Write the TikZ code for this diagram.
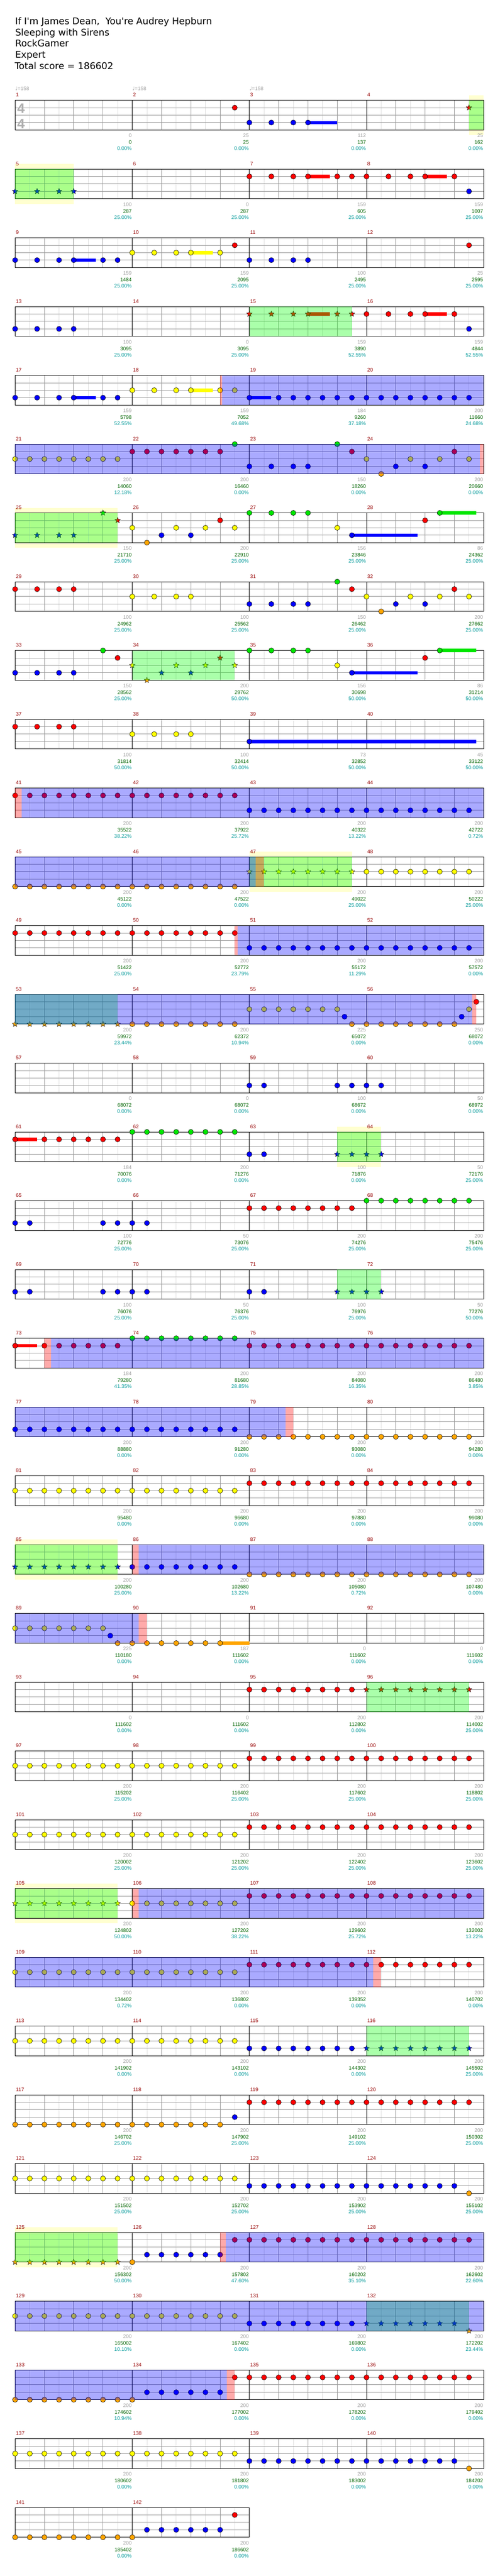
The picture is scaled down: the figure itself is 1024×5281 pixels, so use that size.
\documentclass[tikz,border=0pt]{standalone}
\usepackage{fontspec}
\usetikzlibrary{shapes.geometric}
\newfontfamily\titlef{DejaVu Sans}
\newfontfamily\numf{Liberation Sans}
\newfontfamily\djf{DejaVu Sans}
\definecolor{ln0}{RGB}{0,230,0}
\definecolor{ln1}{RGB}{255,0,0}
\definecolor{ln2}{RGB}{255,255,0}
\definecolor{ln3}{RGB}{0,0,255}
\definecolor{ln4}{RGB}{255,165,0}
\definecolor{csp}{RGB}{0,255,0}
\definecolor{cod}{RGB}{0,0,255}
\definecolor{cpk}{RGB}{255,0,0}
\definecolor{cexty}{RGB}{255,255,208}
\definecolor{mred}{RGB}{150,0,0}
\definecolor{numgrey}{RGB}{160,160,160}
\definecolor{numgreen}{RGB}{0,100,0}
\definecolor{numcyan}{RGB}{0,153,153}
\definecolor{gridlight}{RGB}{222,222,222}
\definecolor{gridmid}{RGB}{153,153,153}
\definecolor{sigrey}{RGB}{175,175,175}
\definecolor{tempogrey}{RGB}{165,165,165}
\tikzset{
 starnote/.style={star,star points=5,star point ratio=2.3,minimum size=12pt,inner sep=0pt,draw=black,line width=0.5pt},
 spgreen/.style={fill=csp,fill opacity=0.333},
 odblue/.style={fill=cod,fill opacity=0.333},
 pkred/.style={fill=cpk,fill opacity=0.333},
 extyel/.style={fill=cexty},
 glight/.style={draw=gridlight,line width=1pt},
 gmid/.style={draw=gridmid,line width=1pt},
 gbar/.style={draw=black,line width=1pt},
 smallfont/.style={font=\numf\fontsize{10.5}{12}\selectfont,inner sep=0pt},
 mlab/.style={smallfont,text=mred,anchor=base west},
 ngrey/.style={smallfont,text=numgrey,anchor=base east},
 ngreen/.style={smallfont,text=numgreen,anchor=base east},
 ncyan/.style={smallfont,text=numcyan,anchor=base east},
 tempo/.style={smallfont,text=tempogrey,anchor=base west},
 tsig/.style={font=\numf\bfseries\fontsize{28}{30}\selectfont,text=sigrey,inner sep=0pt,anchor=base west},
 titletext/.style={font=\titlef\fontsize{19}{22}\selectfont,inner sep=0pt,anchor=base west},
}
% note: row, beat, lane
\newcommand{\gnote}[3]{%
 \pgfmathsetmacro{\xx}{31+60*(#2)}%
 \pgfmathsetmacro{\yy}{205.5+141*(#1)+15.25*(#3)}%
 \filldraw[fill=ln#3,draw=black,line width=0.6pt] (\xx,\yy) circle[radius=5.3pt];}
\newcommand{\gstar}[3]{%
 \pgfmathsetmacro{\xx}{31+60*(#2)}%
 \pgfmathsetmacro{\yy}{205.5+141*(#1)+15.25*(#3)}%
 \node[starnote,fill=ln#3] at (\xx,\yy) {};}
% sustain: row, beat, lane, length
\newcommand{\gsus}[4]{%
 \pgfmathsetmacro{\xa}{31+60*(#2)}%
 \pgfmathsetmacro{\xb}{31+60*(#2+#4)}%
 \pgfmathsetmacro{\ya}{205.5+141*(#1)+15.25*(#3)-3.4}%
 \pgfmathsetmacro{\yb}{\ya+6.8}%
 \fill[ln#3] (\xa,\ya) rectangle (\xb,\yb);}
\newcommand{\gsn}[4]{\gsus{#1}{#2}{#3}{#4}\gnote{#1}{#2}{#3}}
% run: row, start, count, step, lane
\newcommand{\grun}[5]{\foreach \kk in {1,...,#3}{\pgfmathsetmacro{\gbb}{#2+(\kk-1)*(#4)}\gnote{#1}{\gbb}{#5}}}
\newcommand{\gsrun}[5]{\foreach \kk in {1,...,#3}{\pgfmathsetmacro{\gbb}{#2+(\kk-1)*(#4)}\gstar{#1}{\gbb}{#5}}}
\newcommand{\gpat}[3]{\gnote{#1}{#2}{#3}\gnote{#1}{#2+0.75}{#3}\gnote{#1}{#2+1.5}{#3}\gnote{#1}{#2+2}{#3}}
\newcommand{\gspat}[3]{\gstar{#1}{#2}{#3}\gstar{#1}{#2+0.75}{#3}\gstar{#1}{#2+1.5}{#3}\gstar{#1}{#2+2}{#3}}
% region: style, row, b1, b2
\newcommand{\greg}[4]{%
 \pgfmathsetmacro{\xa}{31+60*(#3)}\pgfmathsetmacro{\xb}{31+60*(#4)}%
 \pgfmathsetmacro{\ya}{205.5+141*(#2)}\pgfmathsetmacro{\yb}{\ya+61}%
 \fill[#1] (\xa,\ya) rectangle (\xb,\yb);}
\newcommand{\gext}[3]{%
 \pgfmathsetmacro{\xa}{31+60*(#2)}\pgfmathsetmacro{\xb}{31+60*(#3)}%
 \pgfmathsetmacro{\ya}{205.5+141*(#1)-10.5}\pgfmathsetmacro{\yb}{\ya+82}%
 \fill[extyel] (\xa,\ya) rectangle (\xb,\yb);}
% staff: row, measures
\newcommand{\gstaff}[2]{%
 \pgfmathsetmacro{\ya}{205.5+141*(#1)}\pgfmathsetmacro{\yb}{\ya+61}%
 \pgfmathtruncatemacro{\nb}{4*#2-1}%
 \pgfmathsetmacro{\xe}{31+240*#2}%
 \foreach \kk in {0,...,\nb}{\pgfmathsetmacro{\xk}{61+60*\kk}\draw[glight] (\xk,\ya)--(\xk,\yb);}%
 \foreach \kk in {1,...,\nb}{\pgfmathsetmacro{\xk}{31+60*\kk}\draw[gmid] (\xk,\ya)--(\xk,\yb);}%
 \foreach \jj in {1,2,3}{\pgfmathsetmacro{\yk}{\ya+15.25*\jj}\draw[gmid] (31,\yk)--(\xe,\yk);}%
 \pgfmathtruncatemacro{\nm}{#2-1}%
 \foreach \kk in {1,...,\nm}{\pgfmathsetmacro{\xk}{31+240*\kk}\draw[gbar] (\xk,\ya)--(\xk,\yb);}%
 \draw[gbar] (31,\ya) rectangle (\xe,\yb);%
 \foreach \kk in {1,...,#2}{\pgfmathtruncatemacro{\mnum}{4*#1+\kk}\pgfmathsetmacro{\xk}{31+240*(\kk-1)+1.5}\pgfmathsetmacro{\yk}{\ya-7.2}\node[mlab] at (\xk,\yk) {\mnum};}%
}
% numbers: row, measure, grey, green, cyan
\newcommand{\gnums}[5]{%
 \pgfmathsetmacro{\xa}{31+240*(#2)-1}\pgfmathsetmacro{\ya}{205.5+141*(#1)}%
 \pgfmathsetmacro{\yg}{\ya+76.5}\pgfmathsetmacro{\yn}{\ya+89.8}\pgfmathsetmacro{\yc}{\ya+102.8}%
 \node[ngrey] at (\xa,\yg) {#3};\node[ngreen] at (\xa,\yn) {#4};\node[ncyan] at (\xa,\yc) {#5\%};}
\newcommand{\rownums}[2]{\foreach \qa/\qb/\qc/\qd in {#2}{\gnums{#1}{\qa}{\qb}{\qc}{\qd}}}
\begin{document}
\begin{tikzpicture}[x=1pt,y=-1pt]
\useasboundingbox (0,0) rectangle (1024,5281);
\fill[white] (0,0) rectangle (1024,5281);
% title
\node[titletext] (t1) at (31,50) {If I'm James Dean,\hspace{0.3em} You're Audrey Hepburn};
\node[titletext] (t2) at (31,73) {Sleeping with Sirens};
\node[titletext] (t3) at (31,96) {RockGamer};
\node[titletext] (t4) at (31,119) {Expert};
\node[titletext] (t5) at (30,142) {Total score = 186602};
% row 0
\gext{0}{15.5}{16}
\gstaff{0}{4}
\node[tsig] (ts1) at (35,231.7) {4};
\node[tsig] (ts2) at (35,263.3) {4};
\node[tempo] (tp1) at (31,185.3) {{\djf ♩}=158};
\node[tempo] (tp2) at (271,185.3) {{\djf ♩}=158};
\node[tempo] (tp3) at (511,185.3) {{\djf ♩}=158};
\gnote{0}{7.5}{1}
\gnote{0}{8}{3}\gnote{0}{8.75}{3}\gnote{0}{9.5}{3}\gsn{0}{10}{3}{1}
\gstar{0}{15.5}{1}
\greg{spgreen}{0}{15.5}{16}
\rownums{0}{1/0/0/0.00,2/25/25/0.00,3/112/137/0.00,4/25/162/0.00}
% row 1
\gext{1}{0}{2}
\gstaff{1}{4}
\gspat{1}{0}{3}
\gnote{1}{8}{1}\gnote{1}{8.75}{1}\gnote{1}{9.5}{1}\gsn{1}{10}{1}{0.75}\gnote{1}{11}{1}\gnote{1}{11.5}{1}
\gnote{1}{12}{1}\gnote{1}{12.75}{1}\gnote{1}{13.5}{1}\gsn{1}{14}{1}{0.75}\gnote{1}{15}{1}\gnote{1}{15.5}{3}
\greg{spgreen}{1}{0}{2}
\rownums{1}{1/100/287/25.00,2/0/287/25.00,3/159/605/25.00,4/159/1007/25.00}
% row 2
\gstaff{2}{4}
\gnote{2}{0}{3}\gnote{2}{0.75}{3}\gnote{2}{1.5}{3}\gsn{2}{2}{3}{0.75}\gnote{2}{3}{3}\gnote{2}{3.5}{3}
\gnote{2}{4}{2}\gnote{2}{4.75}{2}\gnote{2}{5.5}{2}\gsn{2}{6}{2}{0.75}\gnote{2}{7}{2}\gnote{2}{7.5}{1}
\gpat{2}{8}{3}\gnote{2}{15.5}{1}
\rownums{2}{1/159/1484/25.00,2/159/2095/25.00,3/100/2495/25.00,4/25/2595/25.00}
% row 3
\gstaff{3}{4}
\gpat{3}{0}{3}
\gstar{3}{8}{1}\gstar{3}{8.75}{1}\gstar{3}{9.5}{1}\gsus{3}{10}{1}{0.75}\gstar{3}{10}{1}\gstar{3}{11}{1}\gstar{3}{11.5}{1}
\gnote{3}{12}{1}\gnote{3}{12.75}{1}\gnote{3}{13.5}{1}\gsn{3}{14}{1}{0.75}\gnote{3}{15}{1}\gnote{3}{15.5}{3}
\greg{spgreen}{3}{8}{11.5}
\rownums{3}{1/100/3095/25.00,2/0/3095/25.00,3/159/3890/52.55,4/159/4844/52.55}
% row 4
\gstaff{4}{4}
\gnote{4}{0}{3}\gnote{4}{0.75}{3}\gnote{4}{1.5}{3}\gsn{4}{2}{3}{0.75}\gnote{4}{3}{3}\gnote{4}{3.5}{3}
\gnote{4}{4}{2}\gnote{4}{4.75}{2}\gnote{4}{5.5}{2}\gsn{4}{6}{2}{0.75}\gnote{4}{7}{2}\gnote{4}{7.5}{2}
\gsn{4}{8}{3}{0.75}\grun{4}{9}{14}{0.5}{3}
\greg{odblue}{4}{7.07}{16}\greg{pkred}{4}{7}{7.07}
\rownums{4}{1/159/5798/52.55,2/159/7052/49.68,3/184/9260/37.18,4/200/11660/24.68}
% row 5
\gstaff{5}{4}
\grun{5}{0}{8}{0.5}{2}\grun{5}{4}{7}{0.5}{1}\gnote{5}{7.5}{0}\gpat{5}{8}{3}
\gnote{5}{11}{0}\gnote{5}{11.5}{1}\gnote{5}{12}{2}\gnote{5}{12.5}{4}\gnote{5}{13}{3}\gnote{5}{13.5}{2}\gnote{5}{14}{3}\gnote{5}{14.5}{2}\gnote{5}{15}{1}\gnote{5}{15.5}{2}
\greg{odblue}{5}{0}{15.87}\greg{pkred}{5}{15.87}{16}
\rownums{5}{1/200/14060/12.18,2/200/16460/0.00,3/150/18260/0.00,4/200/20660/0.00}
% row 6
\gext{6}{0}{3.5}
\gstaff{6}{4}
\gspat{6}{0}{3}\gstar{6}{3}{0}\gstar{6}{3.5}{1}
\gnote{6}{4}{2}\gnote{6}{4.5}{4}\gnote{6}{5}{3}\gnote{6}{5.5}{2}\gnote{6}{6}{3}\gnote{6}{6.5}{2}\gnote{6}{7}{1}\gnote{6}{7.5}{2}
\gpat{6}{8}{0}\gnote{6}{11}{2}\gsn{6}{11.5}{3}{2.25}\gnote{6}{14}{1}\gsn{6}{14.5}{0}{1.25}
\greg{spgreen}{6}{0}{3.5}
\rownums{6}{1/150/21710/25.00,2/200/22910/25.00,3/156/23846/25.00,4/86/24362/25.00}
% row 7
\gstaff{7}{4}
\gpat{7}{0}{1}\gpat{7}{4}{2}\gpat{7}{8}{3}
\gnote{7}{11}{0}\gnote{7}{11.5}{1}\gnote{7}{12}{2}\gnote{7}{12.5}{4}\gnote{7}{13}{3}\gnote{7}{13.5}{2}\gnote{7}{14}{3}\gnote{7}{14.5}{2}\gnote{7}{15}{1}\gnote{7}{15.5}{2}
\rownums{7}{1/100/24962/25.00,2/100/25562/25.00,3/150/26462/25.00,4/200/27662/25.00}
% row 8
\gstaff{8}{4}
\gpat{8}{0}{3}\gnote{8}{3}{0}\gnote{8}{3.5}{1}
\gstar{8}{4}{2}\gstar{8}{4.5}{4}\gstar{8}{5}{3}\gstar{8}{5.5}{2}\gstar{8}{6}{3}\gstar{8}{6.5}{2}\gstar{8}{7}{1}\gstar{8}{7.5}{2}
\gpat{8}{8}{0}\gnote{8}{11}{2}\gsn{8}{11.5}{3}{2.25}\gnote{8}{14}{1}\gsn{8}{14.5}{0}{1.25}
\greg{spgreen}{8}{4}{7.5}
\rownums{8}{1/150/28562/25.00,2/200/29762/50.00,3/156/30698/50.00,4/86/31214/50.00}
% row 9
\gstaff{9}{4}
\gpat{9}{0}{1}\gpat{9}{4}{2}\gsn{9}{8}{3}{7.75}
\rownums{9}{1/100/31814/50.00,2/100/32414/50.00,3/73/32852/50.00,4/45/33122/50.00}
% row 10
\gstaff{10}{4}
\grun{10}{0}{16}{0.5}{1}\grun{10}{8}{16}{0.5}{3}
\greg{odblue}{10}{0.22}{16}\greg{pkred}{10}{0}{0.22}
\rownums{10}{1/200/35522/38.22,2/200/37922/25.72,3/200/40322/13.22,4/200/42722/0.72}
% row 11
\gext{11}{8}{11.5}
\gstaff{11}{4}
\grun{11}{0}{16}{0.5}{4}\gsrun{11}{8}{8}{0.5}{2}\grun{11}{12}{8}{0.5}{2}
\greg{spgreen}{11}{8}{11.5}\greg{odblue}{11}{0}{8.22}\greg{pkred}{11}{8.22}{8.5}
\rownums{11}{1/200/45122/0.00,2/200/47522/0.00,3/200/49022/25.00,4/200/50222/25.00}
% row 12
\gstaff{12}{4}
\grun{12}{0}{16}{0.5}{1}\grun{12}{8}{16}{0.5}{3}
\greg{odblue}{12}{7.59}{16}\greg{pkred}{12}{7.5}{7.59}
\rownums{12}{1/200/51422/25.00,2/200/52772/23.79,3/200/55172/11.29,4/200/57572/0.00}
% row 13
\gstaff{13}{4}
\gsrun{13}{0}{8}{0.5}{4}\grun{13}{4}{8}{0.5}{4}\grun{13}{8}{7}{0.5}{2}\gnote{13}{11.25}{3}\grun{13}{11.5}{8}{0.5}{4}\gnote{13}{15.25}{3}\gnote{13}{15.5}{2}\gnote{13}{15.75}{1}
\greg{spgreen}{13}{0}{3.5}\greg{odblue}{13}{0}{15.6}\greg{pkred}{13}{15.6}{15.75}
\rownums{13}{1/200/59972/23.44,2/200/62372/10.94,3/225/65072/0.00,4/250/68072/0.00}
% row 14
\gstaff{14}{4}
\gnote{14}{8}{3}\gnote{14}{8.5}{3}\grun{14}{11}{4}{0.5}{3}
\rownums{14}{1/0/68072/0.00,2/0/68072/0.00,3/100/68672/0.00,4/50/68972/0.00}
% row 15
\gext{15}{11}{12.5}
\gstaff{15}{4}
\gsn{15}{0}{1}{0.75}\grun{15}{1}{6}{0.5}{1}\grun{15}{4}{8}{0.5}{0}\gnote{15}{8}{3}\gnote{15}{8.5}{3}\gsrun{15}{11}{4}{0.5}{3}
\greg{spgreen}{15}{11}{12.5}
\rownums{15}{1/184/70076/0.00,2/200/71276/0.00,3/100/71876/0.00,4/50/72176/25.00}
% row 16
\gstaff{16}{4}
\gnote{16}{0}{3}\gnote{16}{0.5}{3}\grun{16}{3}{4}{0.5}{3}\grun{16}{8}{8}{0.5}{1}\grun{16}{12}{8}{0.5}{0}
\rownums{16}{1/100/72776/25.00,2/50/73076/25.00,3/200/74276/25.00,4/200/75476/25.00}
% row 17
\gstaff{17}{4}
\gnote{17}{0}{3}\gnote{17}{0.5}{3}\grun{17}{3}{4}{0.5}{3}\gnote{17}{8}{3}\gnote{17}{8.5}{3}\gsrun{17}{11}{4}{0.5}{3}
\greg{spgreen}{17}{11}{12.5}
\rownums{17}{1/100/76076/25.00,2/50/76376/25.00,3/100/76976/25.00,4/50/77276/50.00}
% row 18
\gstaff{18}{4}
\gsn{18}{0}{1}{0.75}\grun{18}{1}{6}{0.5}{1}\grun{18}{4}{8}{0.5}{0}\grun{18}{8}{16}{0.5}{1}
\greg{odblue}{18}{1.22}{16}\greg{pkred}{18}{1}{1.22}
\rownums{18}{1/184/79280/41.35,2/200/81680/28.85,3/200/84080/16.35,4/200/86480/3.85}
% row 19
\gstaff{19}{4}
\grun{19}{0}{16}{0.5}{3}\grun{19}{8}{16}{0.5}{4}
\greg{odblue}{19}{0}{9.24}\greg{pkred}{19}{9.24}{9.5}
\rownums{19}{1/200/88880/0.00,2/200/91280/0.00,3/200/93080/0.00,4/200/94280/0.00}
% row 20
\gstaff{20}{4}
\grun{20}{0}{16}{0.5}{2}\grun{20}{8}{16}{0.5}{1}
\rownums{20}{1/200/95480/0.00,2/200/96680/0.00,3/200/97880/0.00,4/200/99080/0.00}
% row 21
\gext{21}{0}{3.5}
\gstaff{21}{4}
\gsrun{21}{0}{8}{0.5}{3}\grun{21}{4}{8}{0.5}{3}\grun{21}{8}{16}{0.5}{4}
\greg{spgreen}{21}{0}{3.5}\greg{odblue}{21}{4.22}{16}\greg{pkred}{21}{4}{4.22}
\rownums{21}{1/200/100280/25.00,2/200/102680/13.22,3/200/105080/0.72,4/200/107480/0.00}
% row 22
\gstaff{22}{4}
\grun{22}{0}{7}{0.5}{2}\gnote{22}{3.25}{3}\grun{22}{3.5}{7}{0.5}{4}\gsn{22}{7}{4}{1}
\greg{odblue}{22}{0}{4.22}\greg{pkred}{22}{4.22}{4.5}
\rownums{22}{1/225/110180/0.00,2/187/111602/0.00,3/0/111602/0.00,4/0/111602/0.00}
% row 23
\gstaff{23}{4}
\grun{23}{8}{8}{0.5}{1}\gsrun{23}{12}{8}{0.5}{1}
\greg{spgreen}{23}{12}{15.5}
\rownums{23}{1/0/111602/0.00,2/0/111602/0.00,3/200/112802/0.00,4/200/114002/25.00}
% row 24
\gstaff{24}{4}
\grun{24}{0}{16}{0.5}{2}\grun{24}{8}{16}{0.5}{1}
\rownums{24}{1/200/115202/25.00,2/200/116402/25.00,3/200/117602/25.00,4/200/118802/25.00}
% row 25
\gstaff{25}{4}
\grun{25}{0}{16}{0.5}{2}\grun{25}{8}{16}{0.5}{1}
\rownums{25}{1/200/120002/25.00,2/200/121202/25.00,3/200/122402/25.00,4/200/123602/25.00}
% row 26
\gext{26}{0}{3.5}
\gstaff{26}{4}
\gsrun{26}{0}{8}{0.5}{2}\grun{26}{4}{8}{0.5}{2}\grun{26}{8}{16}{0.5}{1}
\greg{spgreen}{26}{0}{3.5}\greg{odblue}{26}{4.22}{16}\greg{pkred}{26}{4}{4.22}
\rownums{26}{1/200/124802/50.00,2/200/127202/38.22,3/200/129602/25.72,4/200/132002/13.22}
% row 27
\gstaff{27}{4}
\grun{27}{0}{16}{0.5}{2}\grun{27}{8}{16}{0.5}{1}
\greg{odblue}{27}{0}{12.22}\greg{pkred}{27}{12.22}{12.5}
\rownums{27}{1/200/134402/0.72,2/200/136802/0.00,3/200/139352/0.00,4/200/140702/0.00}
% row 28
\gstaff{28}{4}
\grun{28}{0}{16}{0.5}{2}\grun{28}{8}{8}{0.5}{3}\gsrun{28}{12}{8}{0.5}{3}
\greg{spgreen}{28}{12}{15.5}
\rownums{28}{1/200/141902/0.00,2/200/143102/0.00,3/200/144302/0.00,4/200/145502/25.00}
% row 29
\gstaff{29}{4}
\grun{29}{0}{15}{0.5}{4}\gnote{29}{7.5}{3}\grun{29}{8}{16}{0.5}{1}
\rownums{29}{1/200/146702/25.00,2/200/147902/25.00,3/200/149102/25.00,4/200/150302/25.00}
% row 30
\gstaff{30}{4}
\grun{30}{0}{16}{0.5}{2}\grun{30}{8}{15}{0.5}{3}\gnote{30}{15.5}{4}
\rownums{30}{1/200/151502/25.00,2/200/152702/25.00,3/200/153902/25.00,4/200/155102/25.00}
% row 31
\gext{31}{0}{3.5}
\gstaff{31}{4}
\gsrun{31}{0}{8}{0.5}{4}\gnote{31}{4}{4}\grun{31}{4.5}{6}{0.5}{3}\grun{31}{7.5}{17}{0.5}{1}
\greg{spgreen}{31}{0}{3.5}\greg{odblue}{31}{7.2}{16}\greg{pkred}{31}{7}{7.2}
\rownums{31}{1/200/156302/50.00,2/200/157802/47.60,3/200/160202/35.10,4/200/162602/22.60}
% row 32
\gstaff{32}{4}
\grun{32}{0}{16}{0.5}{2}\grun{32}{8}{8}{0.5}{3}\gsrun{32}{12}{7}{0.5}{3}\gstar{32}{15.5}{4}
\greg{spgreen}{32}{12}{15.5}\greg{odblue}{32}{0}{16}
\rownums{32}{1/200/165002/10.10,2/200/167402/0.00,3/200/169802/0.00,4/200/172202/23.44}
% row 33
\gstaff{33}{4}
\grun{33}{0}{9}{0.5}{4}\grun{33}{4.5}{6}{0.5}{3}\grun{33}{7.5}{17}{0.5}{1}
\greg{odblue}{33}{0}{7.23}\greg{pkred}{33}{7.23}{7.5}
\rownums{33}{1/200/174602/10.94,2/200/177002/0.00,3/200/178202/0.00,4/200/179402/0.00}
% row 34
\gstaff{34}{4}
\grun{34}{0}{16}{0.5}{2}\grun{34}{8}{15}{0.5}{3}\gnote{34}{15.5}{4}
\rownums{34}{1/200/180602/0.00,2/200/181802/0.00,3/200/183002/0.00,4/200/184202/0.00}
% row 35
\gstaff{35}{2}
\grun{35}{0}{9}{0.5}{4}\grun{35}{4.5}{6}{0.5}{3}\gnote{35}{7.5}{1}
\rownums{35}{1/200/185402/0.00,2/200/186602/0.00}
\end{tikzpicture}
\end{document}
